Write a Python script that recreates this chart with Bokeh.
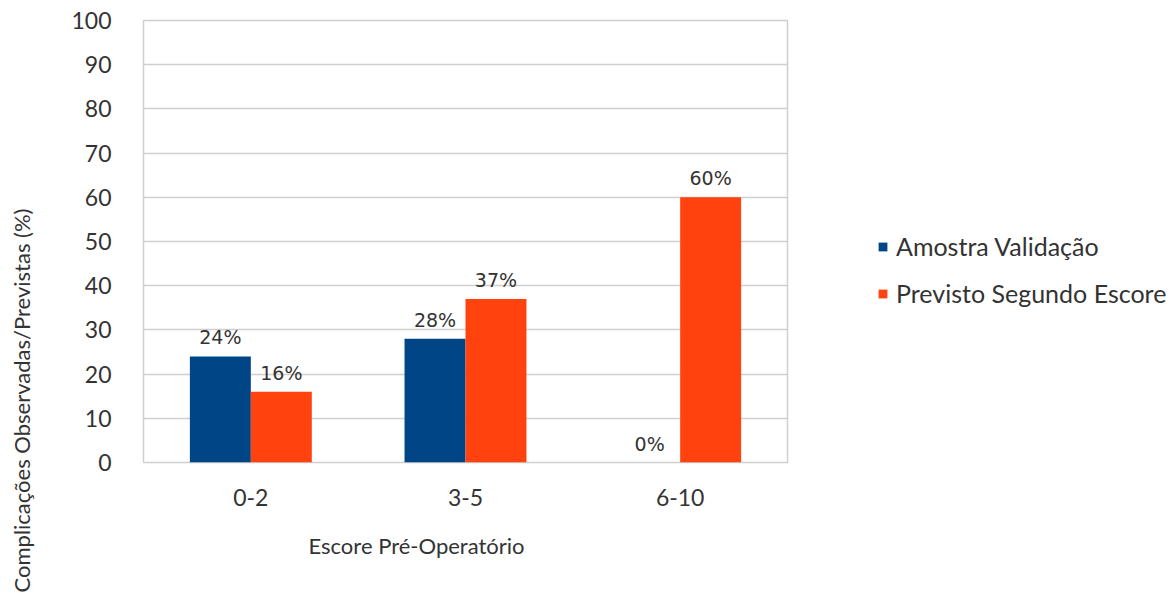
import math
from bokeh.plotting import figure
from bokeh.layouts import row
from bokeh.models import (ColumnDataSource, Range1d, FixedTicker, Legend, LegendItem, Title)
from bokeh.transform import dodge
from bokeh.core.properties import value
from bokeh.embed import file_html
from bokeh.resources import INLINE

categories = ["0-2", "3-5", "6-10"]
amostra_validacao = [24, 28, 0]
previsto_escore = [16, 37, 60]
y_ticks = [0, 10, 20, 30, 40, 50, 60, 70, 80, 90, 100]
series_names = ["Amostra Validação", "Previsto Segundo Escore"]
x_title = "Escore Pré-Operatório"
y_title = "Complicações Observadas/Previstas (%)"

BLUE = "#004586"
ORANGE = "#ff420e"
FONT = "Lato"
TXT = "#333333"

src = ColumnDataSource(dict(
    cat=categories,
    a=amostra_validacao,
    b=previsto_escore,
    a_lbl=[f"{v}%" for v in amostra_validacao],
    b_lbl=[f"{v}%" for v in previsto_escore],
))

# left strip holding the vertical axis title
yt = figure(width=40, height=595, output_backend="svg", toolbar_location=None,
            x_range=Range1d(0, 1), y_range=Range1d(0, 1),
            x_axis_location=None, y_axis_location=None,
            min_border_left=34, min_border_right=0, min_border_top=0, min_border_bottom=0)
yt.grid.grid_line_color = None
yt.outline_line_color = None
yt.add_layout(Title(text=y_title, align="left", offset=-130, standoff=0,
                    text_font=FONT, text_font_size="22px", text_font_style="normal",
                    text_color=TXT), "left")

p = figure(x_range=categories, y_range=Range1d(0, 100),
           width=760, height=595, output_backend="svg", toolbar_location=None,
           min_border_left=103, min_border_right=13, min_border_top=20,
           min_border_bottom=133)

ra = p.vbar(x=dodge("cat", -0.142, range=p.x_range), top="a", width=0.284,
            source=src, fill_color=BLUE, line_color=None)
rb = p.vbar(x=dodge("cat", 0.142, range=p.x_range), top="b", width=0.284,
            source=src, fill_color=ORANGE, line_color=None)

lbl_style = dict(text_align="center", text_baseline="bottom",
                 text_font=value("DejaVu Sans"), text_font_size="19px",
                 text_color=TXT, y_offset=-8)
p.text(x=dodge("cat", -0.142, range=p.x_range), y="a", text="a_lbl", source=src, **lbl_style)
p.text(x=dodge("cat", 0.142, range=p.x_range), y="b", text="b_lbl", source=src, **lbl_style)

p.yaxis.ticker = FixedTicker(ticks=y_ticks)
for ax in (p.xaxis[0], p.yaxis[0]):
    ax.axis_line_color = None
    ax.major_tick_line_color = None
    ax.minor_tick_line_color = None
    ax.major_label_text_font = FONT
    ax.major_label_text_font_size = "23px"
    ax.major_label_text_color = TXT
p.yaxis.major_label_standoff = 26
p.xaxis.major_label_standoff = 20

p.xgrid.grid_line_color = None
p.ygrid.grid_line_color = "#cfcfcf"
p.ygrid.grid_line_width = 1.5
p.outline_line_color = "#cfcfcf"
p.outline_line_width = 1.5
p.background_fill_color = "white"
p.border_fill_color = "white"

p.add_layout(Title(text=x_title, align="left", offset=165, standoff=43,
                   text_font=FONT, text_font_size="22px", text_font_style="normal",
                   text_color=TXT), "below")

# right strip holding the legend
lf = figure(x_range=categories, y_range=Range1d(0, 100), width=372, height=595,
            output_backend="svg", toolbar_location=None,
            x_axis_location=None, y_axis_location=None,
            min_border_left=0, min_border_right=0, min_border_top=0, min_border_bottom=0)
lf.grid.grid_line_color = None
lf.outline_line_color = None
la = lf.vbar(x="cat", top="a", width=0.284, source=src, fill_color=BLUE, line_color=None, visible=False)
lb = lf.vbar(x="cat", top="b", width=0.284, source=src, fill_color=ORANGE, line_color=None, visible=False)

legend = Legend(items=[LegendItem(label=series_names[0], renderers=[la]),
                       LegendItem(label=series_names[1], renderers=[lb])],
                location=(77, 154), orientation="vertical",
                glyph_width=11, glyph_height=11, label_text_font=FONT,
                label_text_font_size="25px", label_text_color=TXT,
                spacing=17, padding=0, margin=0, border_line_color=None,
                background_fill_alpha=0, label_standoff=8,
                inactive_fill_alpha=0)
lf.add_layout(legend, "center")

layout = row(yt, p, lf, spacing=0)
open("out.html", "w").write(file_html(layout, INLINE))
